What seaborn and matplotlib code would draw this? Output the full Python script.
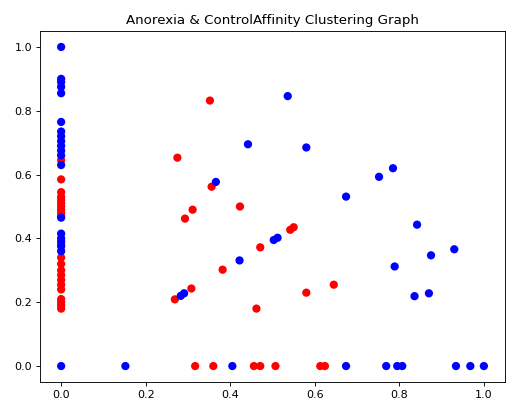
import matplotlib
matplotlib.use("Agg")
import matplotlib.pyplot as plt
import seaborn as sns
import pandas as pd

# Anorexia (red) points
anorexia_x = [0.0] * 22 + [
    0.352, 0.275, 0.356, 0.311, 0.293, 0.423, 0.550, 0.542, 0.471, 0.382,
    0.308, 0.269, 0.580, 0.462, 0.645,
    0.317, 0.360, 0.456, 0.471, 0.507, 0.613, 0.624,
]
anorexia_y = [
    0.645, 0.585, 0.545, 0.53, 0.52, 0.51, 0.50, 0.49, 0.48, 0.47, 0.38,
    0.34, 0.32, 0.30, 0.285, 0.27, 0.255, 0.24, 0.21, 0.20, 0.19, 0.18,
    0.832, 0.653, 0.562, 0.490, 0.462, 0.500, 0.435, 0.427, 0.372, 0.302,
    0.243, 0.209, 0.230, 0.180, 0.255,
    0.0, 0.0, 0.0, 0.0, 0.0, 0.0, 0.0,
]

# Control (blue) points
control_x = [0.0] * 20 + [
    0.536, 0.442, 0.580, 0.366, 0.503, 0.512, 0.422, 0.291, 0.283, 0.785,
    0.752, 0.674, 0.842, 0.930, 0.875, 0.789, 0.870, 0.836,
    0.152, 0.405, 0.674, 0.769, 0.795, 0.807, 0.934, 0.968, 1.0,
]
control_y = [
    1.0, 0.90, 0.89, 0.875, 0.855, 0.765, 0.735, 0.72, 0.705, 0.69,
    0.675, 0.66, 0.63, 0.465, 0.415, 0.40, 0.39, 0.375, 0.36, 0.0,
    0.846, 0.695, 0.685, 0.577, 0.395, 0.402, 0.331, 0.228, 0.220, 0.620,
    0.593, 0.531, 0.443, 0.366, 0.347, 0.312, 0.228, 0.219,
    0.0, 0.0, 0.0, 0.0, 0.0, 0.0, 0.0, 0.0, 0.0,
]

groups = ["Anorexia", "Control"]
colors = {"Anorexia": "red", "Control": "blue"}

df = pd.DataFrame({
    "x": anorexia_x + control_x,
    "y": anorexia_y + control_y,
    "group": [groups[0]] * len(anorexia_x) + [groups[1]] * len(control_x),
})

fig = plt.figure(figsize=(511 / 80, 405 / 80), dpi=80)
ax = fig.add_axes([40 / 511, 1 - 382 / 405, 465 / 511, 351 / 405])
sns.scatterplot(data=df, x="x", y="y", hue="group", palette=colors,
                s=55, linewidth=0, legend=False, ax=ax)
ax.set_xlabel("")
ax.set_ylabel("")
ax.set_title("Anorexia & ControlAffinity Clustering Graph", fontsize=12)
fig.savefig("out.png", dpi=80)
